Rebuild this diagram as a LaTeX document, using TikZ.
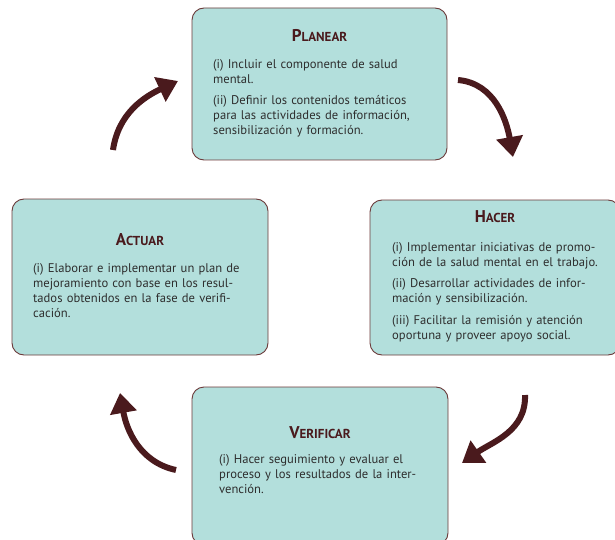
\documentclass[tikz,border=0pt]{standalone}
\usepackage{fontspec}
\setmainfont{PT Sans}
\usetikzlibrary{arrows.meta}
\definecolor{faseteal}{HTML}{B3DFDC}
\definecolor{fasebrown}{HTML}{4A1A1D}
\definecolor{bordebrown}{HTML}{6B3A3A}
\definecolor{textogris}{HTML}{2E2E2E}
% titulo en versalitas
\newcommand{\fasettl}[2]{{\fontsize{17}{19}\selectfont #1}{\fontsize{13}{19}\selectfont #2}}
% linea justificada
\newcommand{\jl}[1]{\makebox[\linewidth][s]{#1}}
\tikzset{
  fase/.style={draw=bordebrown, line width=0.9pt, fill=faseteal, rounded corners=12pt},
  ttl/.style={anchor=base, text=fasebrown, font=\bfseries, inner sep=0pt},
  cuerpo/.style={anchor=base west, text=textogris, inner sep=0pt, align=left, font=\fontsize{12.6}{15}\selectfont},
  ciclo/.style={line width=6pt, draw=fasebrown, -{Triangle[width=26pt,length=20pt]}}
}

\begin{document}
\begin{tikzpicture}[x=1pt,y=1pt]
  \useasboundingbox (0,0) rectangle (615,539);

  % Planear
  \node [fase, minimum width=255pt, minimum height=152pt] (planear) at (319.5,455) {};
  \node [ttl] (planear-t) at (319.5,497) {\fasettl{P}{LANEAR}};
  \node [cuerpo, text width=213pt] (planear-c) at (213,470.5) {\jl{(i) Incluir el componente de salud}\\
    mental.\\[6.5pt]
    \jl{(ii) Definir los contenidos temáticos}\\
    \jl{para las actividades de información,}\\
    sensibilización y formación.};

  % Hacer
  \node [fase, minimum width=250pt, minimum height=155pt] (hacer) at (495,261.5) {};
  \node [ttl] (hacer-t) at (495,317) {\fasettl{H}{ACER}};
  \node [cuerpo, text width=213pt] (hacer-c) at (392,288) {\jl{(i) Implementar iniciativas de promo-}\\
    ción de la salud mental en el trabajo.\\[6.5pt]
    \jl{(ii) Desarrollar actividades de infor-}\\
    mación y sensibilización.\\[6.5pt]
    \jl{(iii) Facilitar la remisión y atención}\\
    oportuna y proveer apoyo social.};

  % Actuar
  \node [fase, minimum width=256pt, minimum height=156pt] (actuar) at (140,262) {};
  \node [ttl] (actuar-t) at (140,294) {\fasettl{A}{CTUAR}};
  \node [cuerpo, text width=218pt] (actuar-c) at (33,267) {\jl{(i) Elaborar e implementar un plan de}\\
    \jl{mejoramiento con base en los resul-}\\
    \jl{tados obtenidos en la fase de verifi-}\\
    cación.};

  % Verificar
  \node [fase, minimum width=256pt, minimum height=158pt] (verificar) at (320,73) {};
  \node [ttl] (verificar-t) at (320,101) {\fasettl{V}{ERIFICAR}};
  \node [cuerpo, text width=206pt] (verificar-c) at (219,76) {\jl{(i) Hacer seguimiento y evaluar el}\\
    \jl{proceso y los resultados de la inter-}\\
    vención.};

  % flechas del ciclo
  \coordinate (pl-s) at (458,459);
  \coordinate (ha-e) at (513,382);
  \coordinate (ha-s) at (525,144);
  \coordinate (ve-e) at (462,76);
  \coordinate (ve-s) at (176,69);
  \coordinate (ac-e) at (120,146);
  \coordinate (ac-s) at (113,389);
  \coordinate (pl-e) at (178,458);
  \draw [ciclo] (pl-s) to[out=-5,in=100] (ha-e);
  \draw [ciclo] (ha-s) to[out=-88,in=35] (ve-e);
  \draw [ciclo] (ve-s) to[out=168,in=-80] (ac-e);
  \draw [ciclo] (ac-s) to[out=82,in=205] (pl-e);
\end{tikzpicture}
\end{document}
